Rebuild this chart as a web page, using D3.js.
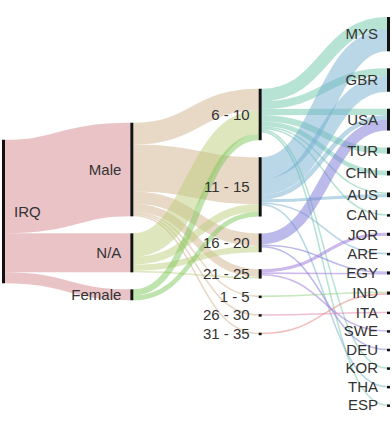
<!DOCTYPE html>
<html>
<head>
<meta charset="utf-8">
<script src="https://cdn.jsdelivr.net/npm/d3@7"></script>
<style>
  body { margin: 0; background: #fff; }
  text { font-family: Arial, "Liberation Sans", sans-serif; font-size: 15px; fill: #333; }
</style>
</head>
<body>
<svg id="chart" width="392" height="423"></svg>
<script>
// node names per column
var origins = ["IRQ"];
var genders = ["Male", "N/A", "Female"];
var ages = ["6 - 10", "11 - 15", "16 - 20", "21 - 25", "1 - 5", "26 - 30", "31 - 35"];
var countries = ["MYS", "GBR", "USA", "TUR", "CHN", "AUS", "CAN", "JOR", "ARE", "EGY", "IND", "ITA", "SWE", "DEU", "KOR", "THA", "ESP"];

// IRQ -> gender
var originGender = [[60, 25, 7]];
// gender -> age (rows: genders, cols: ages)
var genderAge = [
  [14, 30, 8, 5, 1, 1, 1],
  [15, 5, 4, 1, 0, 0, 0],
  [4, 3, 0, 0, 0, 0, 0]
];
// age -> country (rows: ages, cols: countries)
var ageCountry = [
  [8, 5, 4, 4, 3, 1, 1, 0, 0, 0, 0, 0, 0, 0, 1, 0, 1],
  [14, 10, 3, 0, 0, 2, 0, 0, 1, 0, 0, 0, 0, 0, 0, 1, 0],
  [0, 0, 7, 0, 0, 0, 0, 0, 0, 1, 0, 0, 0, 1, 0, 0, 0],
  [0, 0, 0, 0, 0, 0, 0, 2, 0, 1, 0, 0, 1, 0, 0, 0, 0],
  [0, 0, 0, 0, 0, 0, 0, 0, 0, 0, 1, 0, 0, 0, 0, 0, 0],
  [0, 0, 0, 0, 0, 0, 0, 0, 0, 0, 0, 1, 0, 0, 0, 0, 0],
  [0, 0, 0, 0, 0, 0, 0, 0, 0, 0, 1, 0, 0, 0, 0, 0, 0]
];

// link colours by source node
var palette = {
  "IRQ": "#d4888e",
  "Male": "#d1b18d", "N/A": "#bbcd7b", "Female": "#7fc75b",
  "6 - 10": "#6fc7ab", "11 - 15": "#74afcf", "16 - 20": "#7a76d6", "21 - 25": "#9b71d9",
  "1 - 5": "#8fd17c", "26 - 30": "#e07fb0", "31 - 35": "#e88080"
};

var width = 392, height = 423,
    marginTop = 17, marginBottom = 17,
    nodePad = 17, nodeW = 3;

var columns = [origins, genders, ages, countries];
var nodes = [], byName = {};
columns.forEach(function(col, ci) {
  col.forEach(function(name) {
    var n = {name: name, col: ci, ins: [], outs: []};
    nodes.push(n);
    byName[name] = n;
  });
});

var links = [];
function addLinks(srcs, tgts, m) {
  srcs.forEach(function(s, i) {
    tgts.forEach(function(t, j) {
      if (m[i][j] > 0) {
        var l = {source: byName[s], target: byName[t], value: m[i][j]};
        links.push(l);
        byName[s].outs.push(l);
        byName[t].ins.push(l);
      }
    });
  });
}
addLinks(origins, genders, originGender);
addLinks(genders, ages, genderAge);
addLinks(ages, countries, ageCountry);

nodes.forEach(function(n) {
  n.value = Math.max(d3.sum(n.ins, d => d.value), d3.sum(n.outs, d => d.value));
});

var innerH = height - marginTop - marginBottom;
var ky = d3.min(columns, function(col) {
  return (innerH - (col.length - 1) * nodePad) / d3.sum(col, d => byName[d].value);
});

var x = d3.scaleLinear().domain([0, columns.length - 1]).range([2, width - nodeW - 2]);

columns.forEach(function(col, ci) {
  var total = d3.sum(col, d => byName[d].value) * ky + (col.length - 1) * nodePad;
  var y = marginTop + (innerH - total) / 2;
  col.forEach(function(name) {
    var n = byName[name];
    n.x0 = x(ci); n.x1 = n.x0 + nodeW;
    n.y0 = y; n.y1 = y + n.value * ky;
    y = n.y1 + nodePad;
  });
});

nodes.forEach(function(n) {
  n.outs.sort((a, b) => a.target.y0 - b.target.y0);
  n.ins.sort((a, b) => a.source.y0 - b.source.y0);
  var y = n.y0;
  n.outs.forEach(function(l) { l.w = l.value * ky; l.sy = y + l.w / 2; y += l.w; });
  y = n.y0;
  n.ins.forEach(function(l) { l.ty = y + l.w / 2; y += l.w; });
});

var svg = d3.select("#chart");
var linkPath = d3.linkHorizontal();

svg.append("g")
  .attr("fill", "none")
  .selectAll("path")
  .data(links)
  .join("path")
  .attr("d", d => linkPath({source: [d.source.x1, d.sy], target: [d.target.x0, d.ty]}))
  .attr("stroke", d => palette[d.source.name])
  .attr("stroke-opacity", 0.5)
  .attr("stroke-width", d => Math.max(1, d.w));

svg.append("g")
  .selectAll("rect")
  .data(nodes)
  .join("rect")
  .attr("x", d => d.x0)
  .attr("y", d => d.y0)
  .attr("width", nodeW)
  .attr("height", d => Math.max(2.5, d.y1 - d.y0))
  .attr("fill", "#111");

svg.append("g")
  .selectAll("text")
  .data(nodes)
  .join("text")
  .attr("x", d => d.col == 0 ? d.x1 + 9 : d.x0 - 9)
  .attr("y", d => (d.y0 + d.y1) / 2)
  .attr("dy", "0.35em")
  .attr("text-anchor", d => d.col == 0 ? "start" : "end")
  .text(d => d.name);
</script>
</body>
</html>
